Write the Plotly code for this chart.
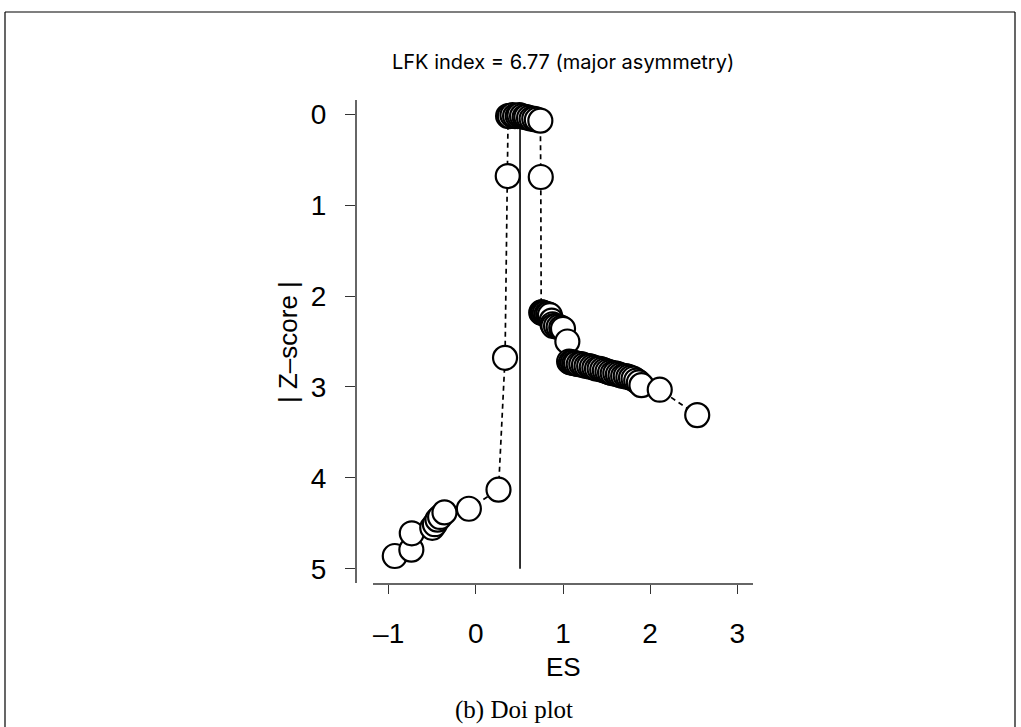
import plotly.graph_objects as go

# ---- data ----
es = [-0.93, -0.74, -0.735, -0.50, -0.47, -0.44, -0.41, -0.36, -0.08, 0.26, 0.335, 0.366,
      0.37, 0.39, 0.42, 0.45, 0.48, 0.50, 0.53, 0.56, 0.58, 0.61, 0.64, 0.67, 0.70, 0.74,
      0.745,
      0.75, 0.76, 0.77, 0.79, 0.81, 0.83, 0.85, 0.87, 0.88, 0.89, 0.92, 0.95, 0.98, 1.00, 1.05,
      1.07, 1.09, 1.11, 1.13, 1.15, 1.18, 1.21, 1.24, 1.27, 1.30, 1.33, 1.36, 1.39, 1.42, 1.45,
      1.48, 1.51, 1.54, 1.57, 1.60, 1.63, 1.66, 1.69, 1.72, 1.75, 1.78, 1.81, 1.84, 1.87, 1.90,
      2.11, 2.54]
z = [4.86, 4.79, 4.61, 4.55, 4.51, 4.46, 4.43, 4.38, 4.34, 4.13, 2.68, 0.68,
     0.02, 0.02, 0.01, 0.02, 0.02, 0.01, 0.02, 0.03, 0.03, 0.04, 0.05, 0.05, 0.06, 0.07,
     0.69,
     2.18, 2.18, 2.19, 2.19, 2.20, 2.20, 2.21, 2.27, 2.31, 2.33, 2.33, 2.34, 2.35, 2.36, 2.50,
     2.72, 2.73, 2.73, 2.74, 2.74, 2.75, 2.75, 2.76, 2.77, 2.77, 2.78, 2.79, 2.80, 2.80, 2.81,
     2.82, 2.83, 2.84, 2.85, 2.85, 2.86, 2.87, 2.88, 2.88, 2.89, 2.90, 2.91, 2.93, 2.95, 2.98,
     3.03, 3.31, 3.32]
pooled_es = 0.507
z_span = [0, 5]
x_ticks = [-1, 0, 1, 2, 3]
x_ticklabels = ["\u20131", "0", "1", "2", "3"]
y_ticks = [0, 1, 2, 3, 4, 5]
y_ticklabels = ["0", "1", "2", "3", "4", "5"]
title_text = "LFK index = 6.77 (major asymmetry)"
caption_text = "(b) Doi plot"

W, H = 1021, 727
L, R, T, B = 356, 753, 100, 584  # plot area in pixels


def px(xp):
    return (xp - L) / (R - L)


def py(yp):
    return (B - yp) / (B - T)


fig = go.Figure()

fig.add_trace(go.Scatter(
    x=[pooled_es, pooled_es], y=z_span, mode="lines",
    line=dict(color="black", width=1.6), hoverinfo="skip", showlegend=False))

fig.add_trace(go.Scatter(
    x=es, y=z, mode="lines+markers",
    line=dict(color="black", width=1.7, dash="5px,4px"),
    marker=dict(size=24, color="white", line=dict(color="black", width=2.2)),
    showlegend=False))

axis_font = dict(family="Liberation Sans, Arial, sans-serif", size=28, color="black")

fig.update_xaxes(
    range=[-1.375, 3.18], tickvals=x_ticks, ticktext=x_ticklabels,
    ticks="outside", ticklen=9, tickwidth=1.2, tickcolor="#333",
    showline=False, showgrid=False, zeroline=False,
    tickfont=axis_font, ticklabelstandoff=15)
fig.update_yaxes(
    range=[5.168, -0.157], tickvals=y_ticks, ticktext=y_ticklabels,
    ticks="outside", ticklen=10, tickwidth=1.2, tickcolor="#333",
    showline=False, showgrid=False, zeroline=False,
    tickfont=axis_font, ticklabelstandoff=13)

shapes = [
    # x axis line
    dict(type="line", xref="paper", yref="paper", x0=px(373), x1=px(753), y0=0, y1=0,
         line=dict(color="#333", width=1.5)),
    # y axis line
    dict(type="line", xref="paper", yref="paper", x0=0, x1=0, y0=py(100), y1=py(583),
         line=dict(color="#333", width=1.5)),
    # frame
    dict(type="line", xref="paper", yref="paper", x0=px(5), x1=px(1015), y0=py(12), y1=py(12),
         line=dict(color="black", width=1.2)),
    dict(type="line", xref="paper", yref="paper", x0=px(5), x1=px(5), y0=py(12), y1=py(727),
         line=dict(color="black", width=1.2)),
    dict(type="line", xref="paper", yref="paper", x0=px(1015), x1=px(1015), y0=py(12), y1=py(727),
         line=dict(color="black", width=1.2)),
]

annotations = [
    dict(text=title_text, xref="paper", yref="paper", x=px(563), y=py(62),
         showarrow=False, xanchor="center", yanchor="middle",
         font=dict(family="Inter, Liberation Sans, sans-serif", size=20, color="black")),
    dict(text="ES", xref="paper", yref="paper", x=px(563), y=py(667),
         showarrow=False, xanchor="center", yanchor="middle", font=dict(axis_font, size=26)),
    dict(text="| Z\u2013score |", xref="paper", yref="paper", x=px(288), y=py(342),
         showarrow=False, xanchor="center", yanchor="middle", textangle=-90,
         font=dict(axis_font, size=26)),
    dict(text=caption_text, xref="paper", yref="paper", x=px(514), y=py(710),
         showarrow=False, xanchor="center", yanchor="middle",
         font=dict(family="Liberation Serif, DejaVu Serif, serif", size=25, color="black")),
]

fig.update_layout(
    width=W, height=H, autosize=False,
    margin=dict(l=L, r=W - R, t=T, b=H - B, pad=0),
    paper_bgcolor="white", plot_bgcolor="white",
    shapes=shapes, annotations=annotations, showlegend=False)

fig.write_html("out.html", config={"displayModeBar": False},
               post_script="document.body.style.margin='0px';document.body.style.padding='0px';")
